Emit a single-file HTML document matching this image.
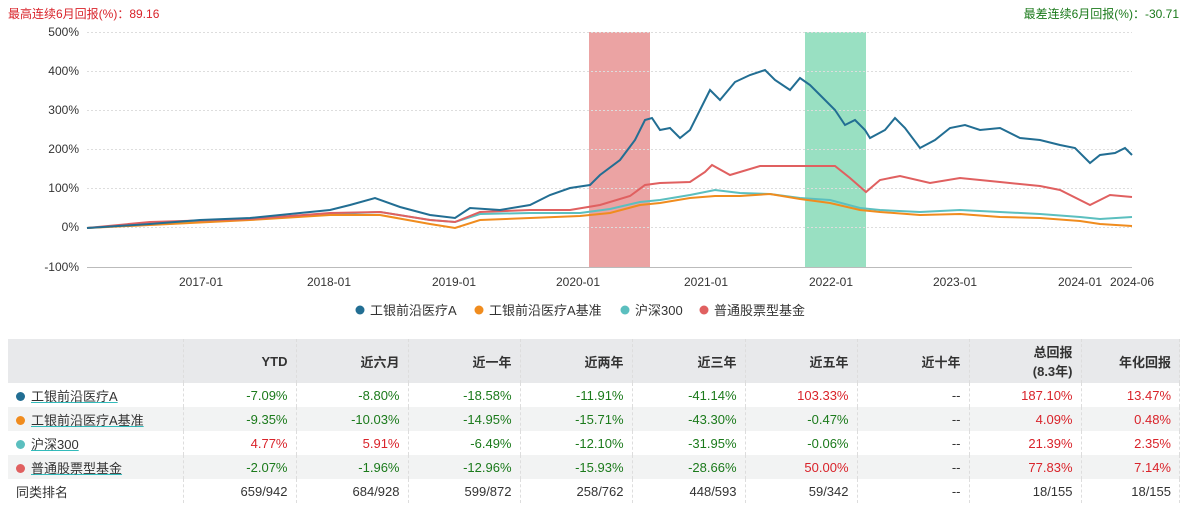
<!DOCTYPE html>
<html><head><meta charset="utf-8"><style>
body{margin:0;width:1187px;height:508px;background:#fff;font-family:"Liberation Sans","Noto Sans CJK SC",sans-serif;overflow:hidden;position:relative}
.t{position:absolute;font-size:12px}
table{position:absolute;left:8px;top:339px;border-collapse:collapse;font-size:13px;width:1172px}
td{height:24px;padding:0 8px 0 0;text-align:right;border-right:1px dashed #ddd;color:#333}
tr.h td{height:44px;background:#e8e9eb;font-weight:bold;color:#333}
tr:nth-child(odd):not(.h) td{background:#f2f3f3}
td:first-child{text-align:left;padding-left:8px}
.g{color:#1b7a1b}.r{color:#d9232a}
.n{text-decoration:underline;text-decoration-color:#3bb;color:#333}
.d{display:inline-block;width:9px;height:9px;border-radius:50%;margin-right:6px}
</style></head><body>
<div class="t" style="left:8px;top:5px;color:#d9232a">最高连续6月回报(%)：89.16</div>
<div class="t" style="right:8px;top:5px;color:#1b7a1b">最差连续6月回报(%)：-30.71</div>
<svg width="1187" height="335" style="position:absolute;left:0;top:0" font-family="Liberation Sans" font-size="12" fill="#333">
<rect x="589" y="32" width="61" height="235" fill="#d66" opacity="0.6"/>
<rect x="805" y="32" width="61" height="235" fill="#5c9" opacity="0.6"/>
<g stroke="#ddd" stroke-dasharray="2,2">
<line x1="87" x2="1132" y1="32.5" y2="32.5"/><line x1="87" x2="1132" y1="71.5" y2="71.5"/><line x1="87" x2="1132" y1="110.5" y2="110.5"/><line x1="87" x2="1132" y1="149.5" y2="149.5"/><line x1="87" x2="1132" y1="188.5" y2="188.5"/><line x1="87" x2="1132" y1="227.5" y2="227.5"/></g>
<line x1="87" x2="1132" y1="267.5" y2="267.5" stroke="#bbb"/>
<g text-anchor="end"><text x="79" y="36">500%</text><text x="79" y="75">400%</text><text x="79" y="114">300%</text><text x="79" y="153">200%</text><text x="79" y="192">100%</text><text x="79" y="231">0%</text><text x="79" y="271">-100%</text></g>
<g text-anchor="middle"><text x="201" y="286">2017-01</text><text x="329" y="286">2018-01</text><text x="454" y="286">2019-01</text><text x="578" y="286">2020-01</text><text x="706" y="286">2021-01</text><text x="831" y="286">2022-01</text><text x="955" y="286">2023-01</text><text x="1080" y="286">2024-01</text><text x="1132" y="286">2024-06</text></g>
<g fill="none" stroke-width="2">
<polyline stroke="#5bbfbf" points="87,228 150,224 250,219 330,214 380,212 430,220 455,222 480,214 530,213 580,213 610,209 640,202 660,200 690,195 715,190 740,193 770,194 800,198 830,200 860,208 880,210 920,212 960,210 1000,212 1040,214 1080,217 1100,219 1132,217"/>
<polyline stroke="#f08c1e" points="87,228 150,225 250,220 330,215 380,215 430,224 455,228 480,220 530,218 580,216 610,213 640,205 660,203 690,198 715,196 740,196 770,194 800,199 830,203 860,210 880,212 920,215 960,214 1000,217 1040,218 1080,221 1100,224 1132,226"/>
<polyline stroke="#e06060" points="87,228 150,222 250,219 330,213 380,212 430,220 455,222 480,212 530,210 570,210 600,205 630,196 645,185 660,183 690,182 705,172 712,165 730,175 760,166 790,166 815,166 835,166 850,178 866,192 880,180 900,176 930,183 960,178 1000,182 1040,186 1060,190 1090,205 1110,195 1132,197"/>
<polyline stroke="#226e93" points="87,228 150,224 200,220 250,218 300,213 330,210 350,205 375,198 400,207 430,215 455,218 470,208 500,210 530,205 550,195 570,188 590,185 600,175 620,160 635,140 645,120 652,118 660,130 670,128 680,138 690,130 700,110 710,90 720,100 735,82 750,75 765,70 775,80 790,90 800,78 810,85 820,95 835,110 845,125 855,120 865,130 870,138 885,130 895,118 905,128 920,148 935,140 950,128 965,125 980,130 1000,128 1020,138 1040,140 1060,145 1075,148 1090,163 1100,155 1115,153 1125,148 1132,155"/>
</g>
<g font-size="13"><circle cx="360" cy="310" r="4.5" fill="#226e93"/><text x="370" y="315">工银前沿医疗A</text>
<circle cx="479" cy="310" r="4.5" fill="#f08c1e"/><text x="489" y="315">工银前沿医疗A基准</text>
<circle cx="625" cy="310" r="4.5" fill="#5bbfbf"/><text x="635" y="315">沪深300</text>
<circle cx="704" cy="310" r="4.5" fill="#e06060"/><text x="714" y="315">普通股票型基金</text></g>
</svg>
<table>
<colgroup><col style="width:175px"><col style="width:113px"><col style="width:112px"><col style="width:112px"><col style="width:112px"><col style="width:113px"><col style="width:112px"><col style="width:112px"><col style="width:112px"><col></colgroup>
<tr class="h"><td></td><td>YTD</td><td>近六月</td><td>近一年</td><td>近两年</td><td>近三年</td><td>近五年</td><td>近十年</td><td>总回报<br>(8.3年)</td><td>年化回报</td></tr>
<tr><td><span class="d" style="background:#226e93"></span><span class="n">工银前沿医疗A</span></td><td class="g">-7.09%</td><td class="g">-8.80%</td><td class="g">-18.58%</td><td class="g">-11.91%</td><td class="g">-41.14%</td><td class="r">103.33%</td><td>--</td><td class="r">187.10%</td><td class="r">13.47%</td></tr>
<tr><td><span class="d" style="background:#f08c1e"></span><span class="n">工银前沿医疗A基准</span></td><td class="g">-9.35%</td><td class="g">-10.03%</td><td class="g">-14.95%</td><td class="g">-15.71%</td><td class="g">-43.30%</td><td class="g">-0.47%</td><td>--</td><td class="r">4.09%</td><td class="r">0.48%</td></tr>
<tr><td><span class="d" style="background:#5bbfbf"></span><span class="n">沪深300</span></td><td class="r">4.77%</td><td class="r">5.91%</td><td class="g">-6.49%</td><td class="g">-12.10%</td><td class="g">-31.95%</td><td class="g">-0.06%</td><td>--</td><td class="r">21.39%</td><td class="r">2.35%</td></tr>
<tr><td><span class="d" style="background:#e06060"></span><span class="n">普通股票型基金</span></td><td class="g">-2.07%</td><td class="g">-1.96%</td><td class="g">-12.96%</td><td class="g">-15.93%</td><td class="g">-28.66%</td><td class="r">50.00%</td><td>--</td><td class="r">77.83%</td><td class="r">7.14%</td></tr>
<tr><td>同类排名</td><td>659/942</td><td>684/928</td><td>599/872</td><td>258/762</td><td>448/593</td><td>59/342</td><td>--</td><td>18/155</td><td>18/155</td></tr>
</table>
</body></html>
